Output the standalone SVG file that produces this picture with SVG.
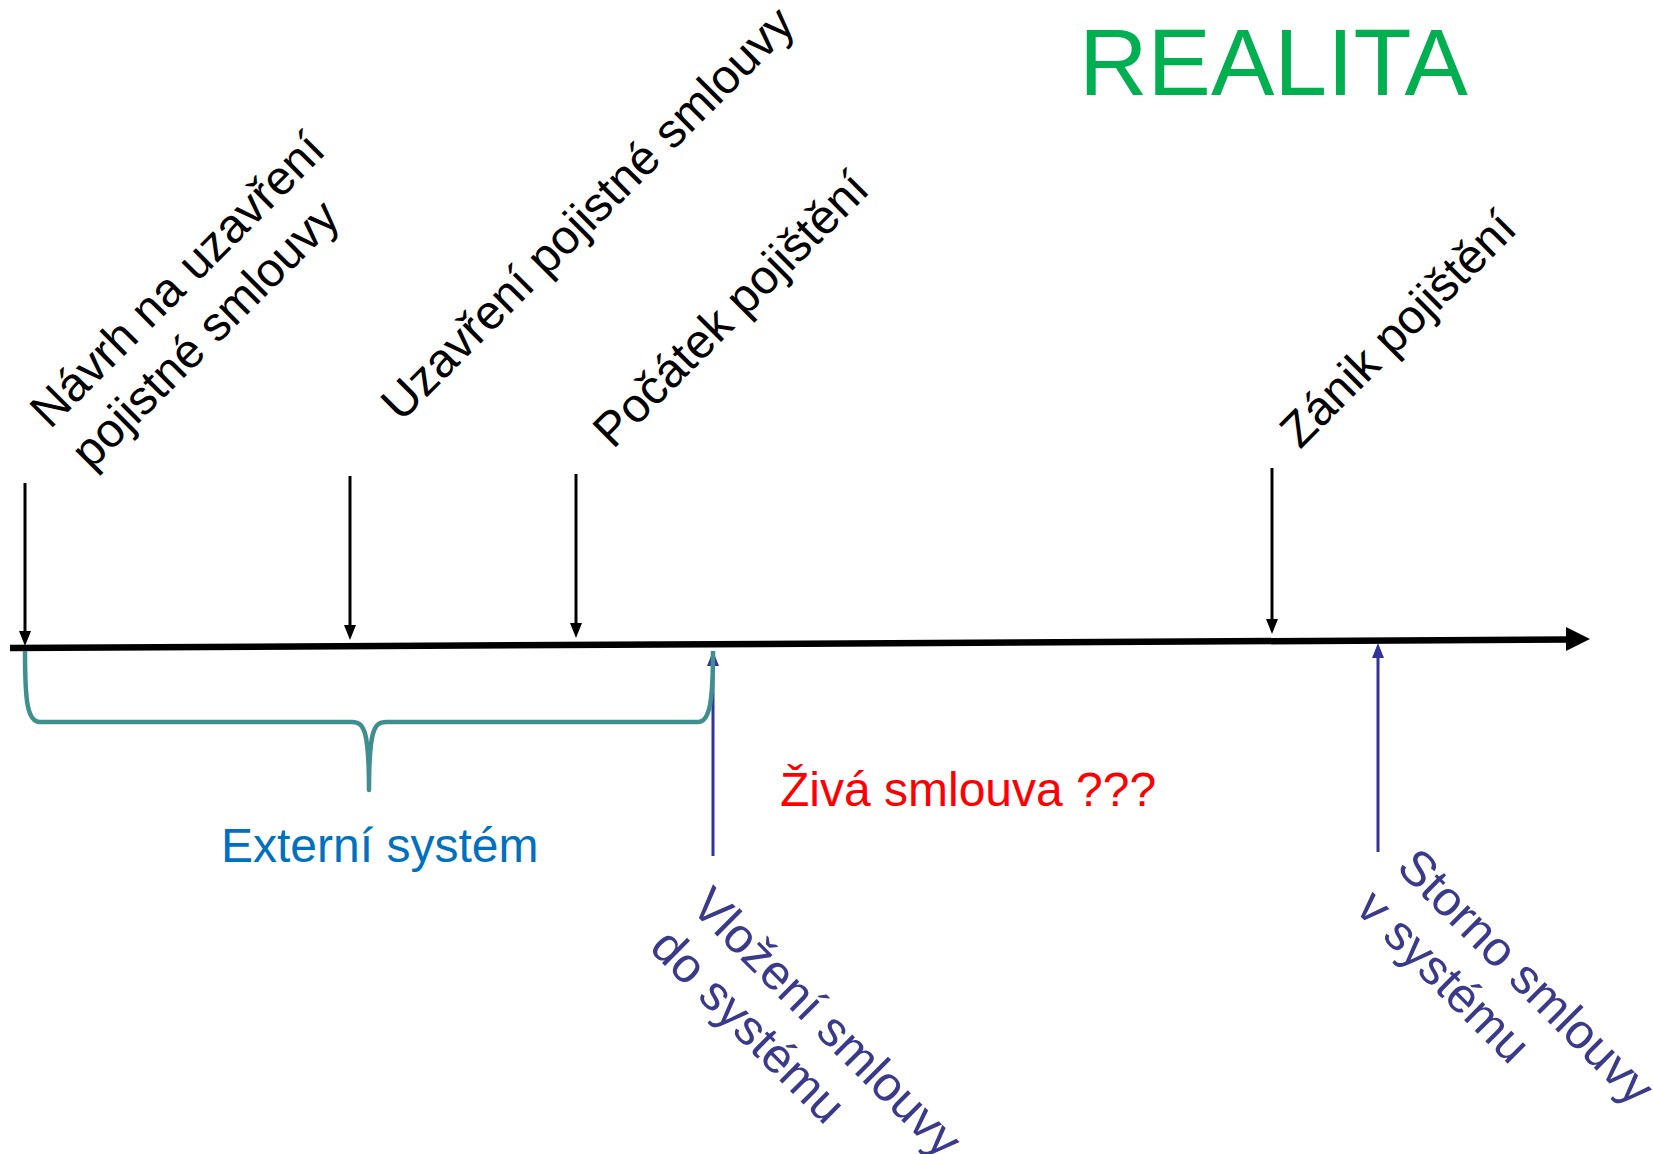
<svg xmlns="http://www.w3.org/2000/svg" width="1653" height="1154" viewBox="0 0 1653 1154">
<style>
text{font-family:"Liberation Sans",Arial,sans-serif}
.top{font-size:48px;fill:#000}
.bot{font-size:49px;fill:#3A3A8A}
.dn{stroke:#000;stroke-width:3;fill:none}
.up{stroke:#333399;stroke-width:3;fill:none}
</style>
<defs>
<marker id="hb" markerUnits="userSpaceOnUse" viewBox="0 0 15 12" markerWidth="15" markerHeight="12" refX="7" refY="6" orient="auto"><path d="M0,0 L15,6 L0,12 z" fill="#000"/></marker>
<marker id="hn" markerUnits="userSpaceOnUse" viewBox="0 0 15 12" markerWidth="15" markerHeight="12" refX="7" refY="6" orient="auto"><path d="M0,0 L15,6 L0,12 z" fill="#333399"/></marker>
</defs>
<rect width="1653" height="1154" fill="#fff"/>
<g id="title"><text x="1079" y="95" font-size="95" fill="#00B050">REALITA</text></g>
<g id="connectors">
<line id="timeline" x1="10" y1="648" x2="1570" y2="639.5" stroke="#000" stroke-width="6.5"/>
<polygon points="1566,627 1590,639 1566,651" fill="#000"/>
<line class="dn" x1="25" y1="483" x2="25" y2="638" marker-end="url(#hb)"/>
<line class="dn" x1="350" y1="476" x2="350" y2="632" marker-end="url(#hb)"/>
<line class="dn" x1="576" y1="474" x2="576" y2="630" marker-end="url(#hb)"/>
<line class="dn" x1="1272" y1="468" x2="1272" y2="626" marker-end="url(#hb)"/>
<line class="up" x1="713" y1="856" x2="713" y2="659" marker-end="url(#hn)"/>
<line class="up" x1="1378" y1="852" x2="1378" y2="651" marker-end="url(#hn)"/>
<path id="brace" d="M25,651 C25,700 27,722 40,722 L352,722 C364,722 369,730 369,790 C369,730 374,722 386,722 L698,722 C710,722 713,700 713,651" fill="none" stroke="#408F8F" stroke-width="4.5" stroke-linejoin="round"/>
</g>
<g id="n1"><text class="top" transform="translate(50,430) rotate(-45)"><tspan x="0" y="0">Návrh na uzavření</tspan><tspan x="0" y="58">pojistné smlouvy</tspan></text></g>
<g id="n2"><text class="top" transform="translate(401,423) rotate(-45)">Uzavření pojistné smlouvy</text></g>
<g id="n3"><text class="top" transform="translate(613,450) rotate(-45)">Počátek pojištění</text></g>
<g id="n4"><text class="top" transform="translate(1300,450) rotate(-45)">Zánik pojištění</text></g>
<g id="n5"><text class="bot" transform="translate(689,908) rotate(45)"><tspan x="0" y="0">Vložení smlouvy</tspan><tspan x="0" y="58">do systému</tspan></text></g>
<g id="n6"><text class="bot" transform="translate(1395,869) rotate(45)"><tspan x="0" y="0">Storno smlouvy</tspan><tspan x="0" y="58">v systému</tspan></text></g>
<g id="ext"><text x="221" y="862" font-size="48" fill="#0070C0">Externí systém</text></g>
<g id="ziva"><text x="780" y="806" font-size="48" fill="#FF0000">Živá smlouva ???</text></g>
</svg>
